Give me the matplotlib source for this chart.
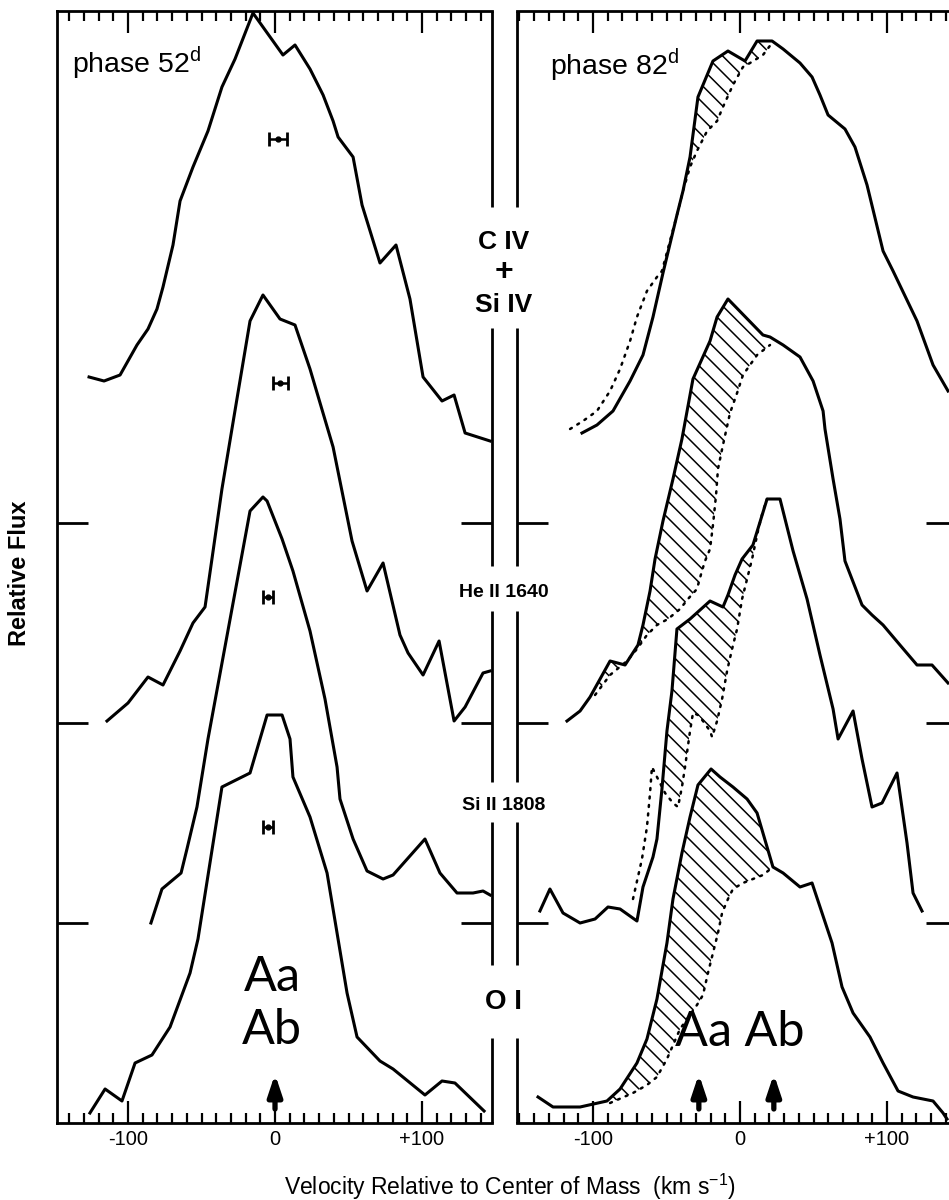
import numpy as np
import matplotlib
matplotlib.use('Agg')
import matplotlib.pyplot as plt
from matplotlib.ticker import FixedLocator, MultipleLocator

plt.rcParams['font.family'] = ['Liberation Sans', 'DejaVu Sans']
plt.rcParams['mathtext.fontset'] = 'custom'
plt.rcParams['mathtext.rm'] = 'Liberation Sans'
plt.rcParams['hatch.linewidth'] = 1.1
plt.rcParams['hatch.color'] = 'k'

##################################################
# phase 52d  (velocity km/s, relative flux with offsets)
civ52_v = [-126.5, -116.3, -105.4, -93.9, -86.4, -80.3, -76.2, -69.4, -64.6, -55.8, -45.6, -36.1, -27.2, -15.0,
           5.4, 13.6, 23.8, 32.7, 39.5, 42.9, 53.1, 59.2, 71.4, 82.3, 91.8, 100.7, 113.6, 121.8, 129.3, 146.3]
civ52_f = [3.73, 3.71, 3.74, 3.89, 3.97, 4.07, 4.18, 4.39, 4.61, 4.78, 4.96, 5.18, 5.32, 5.55,
           5.34, 5.39, 5.27, 5.14, 5.01, 4.93, 4.83, 4.59, 4.30, 4.39, 4.12, 3.73, 3.61, 3.64, 3.45, 3.41]

heii52_v = [-114.3, -100.0, -86.4, -76.2, -64.6, -55.8, -47.6, -42.9, -36.1, -25.9, -17.0, -8.2, 3.4, 13.6,
            23.8, 39.5, 52.4, 62.6, 73.5, 85.0, 90.5, 100.7, 111.6, 121.8, 129.3, 141.5, 146.3]
heii52_f = [2.01, 2.10, 2.23, 2.19, 2.36, 2.50, 2.58, 2.82, 3.17, 3.62, 4.01, 4.14, 4.02, 3.99,
            3.77, 3.38, 2.91, 2.66, 2.80, 2.44, 2.35, 2.24, 2.41, 2.01, 2.08, 2.25, 2.26]

siii52_v = [-84.4, -76.9, -63.9, -59.9, -53.1, -45.6, -17.0, -8.2, -5.4, 4.8, 12.2, 23.8, 34.0,
            42.2, 44.2, 53.1, 62.6, 73.5, 80.3, 102.0, 112.2, 123.8, 134.7, 141.5, 146.3]
siii52_f = [1.00, 1.17, 1.25, 1.37, 1.58, 1.92, 3.06, 3.13, 3.11, 2.92, 2.76, 2.46, 2.12,
            1.78, 1.62, 1.42, 1.26, 1.22, 1.24, 1.42, 1.25, 1.15, 1.15, 1.16, 1.14]

oi52_v = [-125.9, -115.6, -104.1, -95.2, -83.7, -71.4, -57.8, -52.4, -36.1, -17.0, -10.2, -5.4, 4.8, 10.2,
          12.2, 23.8, 35.4, 42.2, 49.0, 55.8, 71.4, 80.3, 102.0, 113.6, 122.4, 142.2]
oi52_f = [0.05, 0.17, 0.11, 0.30, 0.34, 0.48, 0.75, 0.92, 1.68, 1.75, 1.92, 2.04, 2.04, 1.92,
          1.73, 1.53, 1.25, 0.95, 0.65, 0.43, 0.31, 0.27, 0.14, 0.21, 0.20, 0.06]

# error bars (centre velocity, flux level, half width)
err52_v = [2.0, 3.7, -4.8, -4.8]
err52_f = [4.92, 3.70, 2.63, 1.48]
err52_hw = [6.1, 5.1, 3.4, 3.1]

##################################################
# phase 82d : solid = observed, dotted = comparison profile
civ82_v = [-107.5, -97.3, -86.4, -74.8, -66.0, -59.2, -52.4, -42.9, -38.8, -34.0, -28.6, -18.4, -8.2, 3.4,
           11.6, 21.8, 29.3, 40.8, 49.0, 54.4, 59.9, 71.4, 78.2, 86.4, 97.3, 104.1, 120.4, 131.3, 141.5]
civ82_f = [3.45, 3.49, 3.56, 3.71, 3.84, 4.03, 4.25, 4.54, 4.66, 4.83, 5.13, 5.31, 5.36, 5.31,
           5.41, 5.41, 5.37, 5.30, 5.23, 5.14, 5.04, 4.97, 4.88, 4.69, 4.36, 4.26, 4.01, 3.79, 3.66]
civ82d_v = [-115.6, -106.8, -97.3, -88.4, -81.6, -74.8, -70.1, -63.3, -56.5, -53.1, -42.9, -38.8, -34.0,
            -29.3, -22.4, -15.6, -11.6, -4.8, 2.0, 6.8, 15.6, 21.8]
civ82d_f = [3.47, 3.51, 3.56, 3.66, 3.77, 3.91, 4.03, 4.16, 4.23, 4.26, 4.54, 4.66, 4.78,
            4.86, 4.96, 5.01, 5.08, 5.19, 5.28, 5.30, 5.34, 5.40]

heii82_v = [-117.7, -108.8, -102.0, -95.2, -88.4, -78.2, -69.4, -66.0, -61.2, -57.8, -52.4, -45.6, -39.5,
            -32.0, -20.4, -15.6, -8.2, 15.6, 20.4, 29.3, 40.8, 49.7, 56.5, 57.8, 63.3, 68.0, 71.4, 83.0,
            89.8, 97.3, 108.8, 120.4, 130.6, 141.5]
heii82_f = [2.01, 2.06, 2.13, 2.22, 2.31, 2.29, 2.39, 2.49, 2.66, 2.82, 3.01, 3.22, 3.42,
            3.72, 3.91, 4.03, 4.12, 3.94, 3.93, 3.89, 3.83, 3.71, 3.56, 3.47, 3.22, 3.02, 2.81, 2.59,
            2.54, 2.49, 2.39, 2.29, 2.29, 2.20]
heii82d_v = [-98.6, -88.4, -76.9, -70.1, -63.3, -56.5, -49.0, -40.8, -35.4, -29.3, -25.9, -23.8, -20.4,
             -18.4, -16.3, -15.0, -11.6, -6.8, -2.0, 2.0, 11.6, 20.4]
heii82d_f = [2.14, 2.24, 2.31, 2.37, 2.44, 2.49, 2.52, 2.57, 2.62, 2.67, 2.76, 2.81, 2.87,
             2.99, 3.14, 3.27, 3.39, 3.55, 3.65, 3.74, 3.84, 3.89]

siii82_v = [-136.1, -129.3, -120.4, -108.8, -98.6, -89.8, -81.6, -70.1, -66.0, -59.2, -56.5, -53.1, -49.7,
            -46.3, -42.9, -34.0, -20.4, -11.6, -8.2, -3.4, 1.4, 8.8, 18.4, 27.2, 36.1, 45.6, 54.4, 63.3,
            66.7, 76.9, 83.0, 89.8, 96.6, 106.8, 113.6, 117.7, 123.8]
siii82_f = [1.06, 1.17, 1.05, 1.00, 1.02, 1.08, 1.07, 1.01, 1.18, 1.33, 1.42, 1.67, 1.96,
            2.16, 2.47, 2.52, 2.61, 2.58, 2.64, 2.74, 2.82, 2.89, 3.12, 3.12, 2.86, 2.62, 2.34, 2.07,
            1.92, 2.06, 1.82, 1.58, 1.60, 1.75, 1.40, 1.15, 1.06]
siii82d_v = [-72.8, -66.7, -63.3, -61.2, -59.9, -55.8, -51.0, -45.6, -42.2, -39.5, -37.4, -34.0, -32.0,
             -28.6, -25.2, -20.4, -19.0, -15.6, -12.2, -8.8, -5.4, -2.0, 1.4, 8.2, 12.2, 15.6, 18.4]
siii82d_f = [1.12, 1.32, 1.48, 1.65, 1.78, 1.72, 1.65, 1.60, 1.58, 1.68, 1.78, 1.96, 2.05,
             2.04, 2.01, 1.96, 1.93, 2.01, 2.12, 2.26, 2.37, 2.47, 2.62, 2.82, 2.96, 3.06, 3.12]

oi82_v = [-137.4, -127.2, -108.8, -90.5, -81.6, -70.1, -63.3, -56.5, -49.7, -45.6, -39.5, -34.0, -28.6,
          -19.7, -13.6, -4.8, 4.8, 11.6, 15.6, 22.4, 29.3, 40.8, 49.0, 55.8, 62.6, 69.4, 76.9, 88.4,
          97.3, 107.5, 117.7, 131.3, 138.1, 140.8]
oi82_f = [0.13, 0.08, 0.08, 0.11, 0.17, 0.30, 0.42, 0.62, 0.90, 1.12, 1.35, 1.53, 1.69,
          1.77, 1.73, 1.68, 1.62, 1.55, 1.45, 1.28, 1.25, 1.18, 1.20, 1.05, 0.90, 0.68, 0.55, 0.43,
          0.30, 0.16, 0.13, 0.11, 0.05, 0.02]
oi82d_v = [-88.4, -72.8, -63.3, -56.5, -49.7, -40.8, -29.3, -25.2, -21.8, -18.4, -15.0, -12.2, -8.2,
           -4.8, 2.0, 8.8, 15.6, 22.4]
oi82d_f = [0.10, 0.15, 0.19, 0.23, 0.32, 0.47, 0.59, 0.64, 0.75, 0.85, 0.95, 1.05, 1.12,
           1.17, 1.20, 1.22, 1.24, 1.28]

# velocities of the two components marked by arrows
arrows52 = [0.0]
arrows82 = [-28.0, 23.0]

xticks = [-100, 0, 100]
xticklabels = ['-100', '0', '+100']
baselines = [1, 2, 3]
ytop = 5.56
# gaps in the inner frame lines where the ion labels sit
gaps = [(0.426, 0.792), (1.504, 1.704), (2.561, 2.787), (3.975, 4.581)]


##################################################
def setupPanel(ax, xlim, inner):
    ax.set_xlim(*xlim)
    ax.set_ylim(0, ytop)
    ax.xaxis.set_major_locator(FixedLocator(xticks))
    ax.set_xticklabels(xticklabels)
    ax.xaxis.set_minor_locator(MultipleLocator(10))
    ax.tick_params(axis='x', which='both', direction='in', top=True, bottom=True, width=1.6)
    ax.tick_params(axis='x', which='major', length=16, pad=5, labelsize=14.5)
    ax.tick_params(axis='x', which='minor', length=7)
    ax.set_yticks(baselines)
    ax.set_yticklabels([])
    ax.tick_params(axis='y', direction='in', left=True, right=True, length=22, width=2)
    for s in ax.spines.values():
        s.set_linewidth(2)
    ax.spines[inner].set_visible(False)
    xs = 1 if inner == 'right' else 0
    edges = [0] + [g for pair in gaps for g in pair] + [ytop]
    for lo, hi in zip(edges[0::2], edges[1::2]):
        ax.plot([xs, xs], [lo, hi], transform=ax.get_yaxis_transform(), color='k', lw=2,
                clip_on=False, solid_capstyle='butt')


def hatchBetween(ax, v1, f1, v2, f2):
	grid = np.union1d(v1, v2)
	grid = grid[(grid >= max(v1[0], v2[0])) & (grid <= min(v1[-1], v2[-1]))]
	s = np.interp(grid, v1, f1)
	d = np.interp(grid, v2, f2)
	ax.fill_between(grid, d, s, where=s > d, interpolate=True, facecolor='none',
	                edgecolor='k', hatch='\\\\', linewidth=0)


def drawArrows(ax, vs):
	for v in vs:
		ax.annotate('', xy=(v, 0.245), xytext=(v, 0.07),
		            arrowprops=dict(arrowstyle='-|>,head_width=0.3,head_length=0.9', lw=3.8,
		                            color='k', shrinkA=0, shrinkB=0, mutation_scale=14))


##################################################
def main():
	fig = plt.figure(figsize=(9.49, 12), dpi=100)
	ax1 = fig.add_axes([57 / 949, 77 / 1200, 435 / 949, 1112 / 1200])
	ax2 = fig.add_axes([517 / 949, 77 / 1200, 440 / 949, 1112 / 1200])

	setupPanel(ax1, (-148.3, 147.6), 'right')
	setupPanel(ax2, (-151.7, 147.6), 'left')

	lw = 2.2
	for v, f in [(civ52_v, civ52_f), (heii52_v, heii52_f), (siii52_v, siii52_f), (oi52_v, oi52_f)]:
		ax1.plot(v, f, color='k', lw=lw)
	ax1.errorbar(err52_v, err52_f, xerr=err52_hw, fmt='o', color='k', ms=3.5,
	             elinewidth=1.8, capsize=5, capthick=2)

	pairs = [(civ82_v, civ82_f, civ82d_v, civ82d_f),
	         (heii82_v, heii82_f, heii82d_v, heii82d_f),
	         (siii82_v, siii82_f, siii82d_v, siii82d_f),
	         (oi82_v, oi82_f, oi82d_v, oi82d_f)]
	for sv, sf, dv, df in pairs:
		hatchBetween(ax2, sv, sf, dv, df)
		ax2.plot(dv, df, color='k', lw=1.8, ls=(0, (0.8, 2.6)), dash_capstyle='round')
		ax2.plot(sv, sf, color='k', lw=lw)

	drawArrows(ax1, arrows52)
	drawArrows(ax2, arrows82)

	big = dict(fontsize=35, family=['Lato', 'DejaVu Sans'], fontweight='normal',
	           ha='center', va='center')
	ax1.text(-2, 0.73, 'Aa', **big)
	ax1.text(-2, 0.465, 'Ab', **big)
	ax2.text(0, 0.456, 'Aa Ab', **big)

	ax1.text(-138, 5.30, r'phase 52$^{\mathregular{d}}$', fontsize=20.5,
	         ha='left', va='center')
	ax2.text(-129, 5.29, r'phase 82$^{\mathregular{d}}$', fontsize=20.5,
	         ha='left', va='center')

	xc = 504 / 949
	lab = dict(ha='center', va='center', fontweight='bold')
	fig.text(xc, 1 - 242 / 1200, 'C IV', fontsize=19, **lab)
	fig.text(xc, 1 - 272 / 1200, '+', fontsize=23, **lab)
	fig.text(xc, 1 - 305 / 1200, 'Si IV', fontsize=19, **lab)
	fig.text(xc, 1 - 592 / 1200, 'He II 1640', fontsize=14, **lab)
	fig.text(xc, 1 - 805 / 1200, 'Si II 1808', fontsize=14, **lab)
	fig.text(xc, 1 - 1002 / 1200, 'O I', fontsize=20, **lab)

	fig.text(20 / 949, 1 - 573 / 1200, 'Relative Flux', rotation=90, fontsize=17,
	         fontweight='bold', ha='center', va='center')
	fig.text(510 / 949, 1 - 1187 / 1200, r'Velocity Relative to Center of Mass  (km s$^{\mathregular{-1}}$)',
	         fontsize=16.5, ha='center', va='center')

	fig.savefig('out.png', dpi=100, facecolor='white')


##################################################
if __name__ == '__main__':
	main()
